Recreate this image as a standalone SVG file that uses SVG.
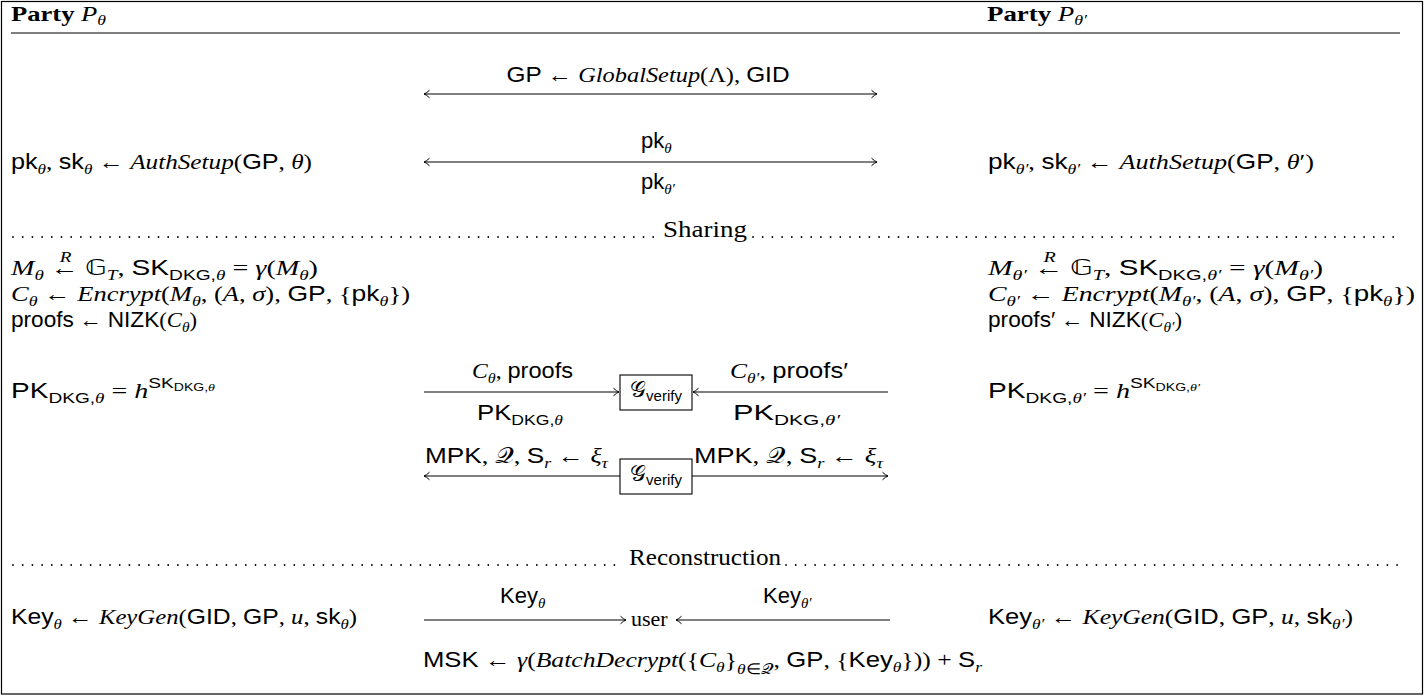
<svg xmlns="http://www.w3.org/2000/svg" width="1425" height="696" viewBox="0 0 1425 696">
<defs>
<style>
text{font-family:"Liberation Serif","Times New Roman",serif;font-size:22px;fill:#000}
.s{font-family:"Liberation Sans",Arial,sans-serif}
.i{font-style:italic}
.m{font-family:"DejaVu Sans","DejaVu Serif",sans-serif;font-style:normal}
.sb{font-size:15px}
.ss{font-size:11px}
.hd{font-size:21px}
.ph{font-size:24px}
.ln{stroke:#000;stroke-width:1.1;fill:none}
.ar{stroke:#000;stroke-width:1.1;fill:none}
.dt{stroke:#000;stroke-width:1.8;stroke-linecap:round;stroke-dasharray:0 9.7;fill:none}
.bx{fill:#fff;stroke:#000;stroke-width:1.1}
</style>
<marker id="ah" viewBox="-7 -5 8 10" refX="0" refY="0" markerWidth="8" markerHeight="10" markerUnits="userSpaceOnUse" orient="auto-start-reverse">
<path d="M-5.5,-3.8 Q-2.5,-0.8 0,0 Q-2.5,0.8 -5.5,3.8" fill="none" stroke="#000" stroke-width="1"/>
</marker>
</defs>
<rect x="1.5" y="1.5" width="1421" height="692.5" fill="#fff" stroke="#000" stroke-width="1.2"/>
<line class="ln" x1="11" y1="33" x2="1400" y2="33"/>

<g id="phases">
<line class="dt" x1="13" y1="237" x2="658" y2="237"/>
<line class="dt" x1="753" y1="237" x2="1400" y2="237"/>
<text class="ph" x="705" y="237" text-anchor="middle" textLength="84" lengthAdjust="spacingAndGlyphs">Sharing</text>
<line class="dt" x1="13" y1="565" x2="624" y2="565"/>
<line class="dt" x1="786" y1="565" x2="1400" y2="565"/>
<text class="ph" x="705" y="565" text-anchor="middle" textLength="152" lengthAdjust="spacingAndGlyphs">Reconstruction</text>
</g>

<g id="party-left">
<text class="hd" x="11" y="21" textLength="95" lengthAdjust="spacingAndGlyphs"><tspan font-weight="bold">Party</tspan> <tspan class="i">P</tspan><tspan class="i" style="font-size:14px" dy="4">θ</tspan></text>
<text x="11" y="169" textLength="301" lengthAdjust="spacingAndGlyphs"><tspan class="s">pk</tspan><tspan class="i sb" dy="5">θ</tspan><tspan dy="-5">, </tspan><tspan class="s">sk</tspan><tspan class="i sb" dy="5">θ</tspan><tspan dy="-5"> ← </tspan><tspan class="i">AuthSetup</tspan>(<tspan class="s">GP</tspan>, <tspan class="i">θ</tspan>)</text>
<text x="11" y="275" textLength="307" lengthAdjust="spacingAndGlyphs"><tspan class="i">M</tspan><tspan class="i sb" dy="5">θ</tspan><tspan dy="-5"> ←</tspan><tspan class="i sb" dx="-15" dy="-13">R</tspan><tspan dx="5" dy="13"> </tspan><tspan class="m">𝔾</tspan><tspan class="i sb" dy="5">T</tspan><tspan dy="-5">, </tspan><tspan class="s">SK</tspan><tspan class="s sb" dy="5">DKG,</tspan><tspan class="i sb">θ</tspan><tspan dy="-5"> = </tspan><tspan class="i">γ</tspan>(<tspan class="i">M</tspan><tspan class="i sb" dy="5">θ</tspan><tspan dy="-5">)</tspan></text>
<text x="11" y="301" textLength="399" lengthAdjust="spacingAndGlyphs"><tspan class="i">C</tspan><tspan class="i sb" dy="5">θ</tspan><tspan dy="-5"> ← </tspan><tspan class="i">Encrypt</tspan>(<tspan class="i">M</tspan><tspan class="i sb" dy="5">θ</tspan><tspan dy="-5">, (</tspan><tspan class="i">A</tspan>, <tspan class="i">σ</tspan>), <tspan class="s">GP</tspan>, {<tspan class="s">pk</tspan><tspan class="i sb" dy="5">θ</tspan><tspan dy="-5">})</tspan></text>
<text x="11" y="327" textLength="186" lengthAdjust="spacingAndGlyphs"><tspan class="s">proofs</tspan> ← <tspan class="s">NIZK</tspan>(<tspan class="i">C</tspan><tspan class="i sb" dy="5">θ</tspan><tspan dy="-5">)</tspan></text>
<text x="11" y="398" textLength="204" lengthAdjust="spacingAndGlyphs"><tspan class="s">PK</tspan><tspan class="s sb" dy="5">DKG,</tspan><tspan class="i sb">θ</tspan><tspan dy="-5"> = </tspan><tspan class="i">h</tspan><tspan class="s sb" dy="-10">SK</tspan><tspan class="s ss" dy="3">DKG,</tspan><tspan class="i ss">θ</tspan></text>
<text x="11" y="624" textLength="346" lengthAdjust="spacingAndGlyphs"><tspan class="s">Key</tspan><tspan class="i sb" dy="5">θ</tspan><tspan dy="-5"> ← </tspan><tspan class="i">KeyGen</tspan>(<tspan class="s">GID</tspan>, <tspan class="s">GP</tspan>, <tspan class="i">u</tspan>, <tspan class="s">sk</tspan><tspan class="i sb" dy="5">θ</tspan><tspan dy="-5">)</tspan></text>
</g>

<g id="party-right">
<text class="hd" x="987" y="21" textLength="100" lengthAdjust="spacingAndGlyphs"><tspan font-weight="bold">Party</tspan> <tspan class="i">P</tspan><tspan class="i" style="font-size:14px" dy="4">θ′</tspan></text>
<text x="988" y="169" textLength="326" lengthAdjust="spacingAndGlyphs"><tspan class="s">pk</tspan><tspan class="i sb" dy="5">θ′</tspan><tspan dy="-5">, </tspan><tspan class="s">sk</tspan><tspan class="i sb" dy="5">θ′</tspan><tspan dy="-5"> ← </tspan><tspan class="i">AuthSetup</tspan>(<tspan class="s">GP</tspan>, <tspan class="i">θ</tspan>′)</text>
<text x="988" y="275" textLength="335" lengthAdjust="spacingAndGlyphs"><tspan class="i">M</tspan><tspan class="i sb" dy="5">θ′</tspan><tspan dy="-5"> ←</tspan><tspan class="i sb" dx="-15" dy="-13">R</tspan><tspan dx="5" dy="13"> </tspan><tspan class="m">𝔾</tspan><tspan class="i sb" dy="5">T</tspan><tspan dy="-5">, </tspan><tspan class="s">SK</tspan><tspan class="s sb" dy="5">DKG,</tspan><tspan class="i sb">θ′</tspan><tspan dy="-5"> = </tspan><tspan class="i">γ</tspan>(<tspan class="i">M</tspan><tspan class="i sb" dy="5">θ′</tspan><tspan dy="-5">)</tspan></text>
<text x="988" y="301" textLength="427" lengthAdjust="spacingAndGlyphs"><tspan class="i">C</tspan><tspan class="i sb" dy="5">θ′</tspan><tspan dy="-5"> ← </tspan><tspan class="i">Encrypt</tspan>(<tspan class="i">M</tspan><tspan class="i sb" dy="5">θ′</tspan><tspan dy="-5">, (</tspan><tspan class="i">A</tspan>, <tspan class="i">σ</tspan>), <tspan class="s">GP</tspan>, {<tspan class="s">pk</tspan><tspan class="i sb" dy="5">θ</tspan><tspan dy="-5">})</tspan></text>
<text x="988" y="327" textLength="194" lengthAdjust="spacingAndGlyphs"><tspan class="s">proofs′</tspan> ← <tspan class="s">NIZK</tspan>(<tspan class="i">C</tspan><tspan class="i sb" dy="5">θ′</tspan><tspan dy="-5">)</tspan></text>
<text x="988" y="398" textLength="212" lengthAdjust="spacingAndGlyphs"><tspan class="s">PK</tspan><tspan class="s sb" dy="5">DKG,</tspan><tspan class="i sb">θ′</tspan><tspan dy="-5"> = </tspan><tspan class="i">h</tspan><tspan class="s sb" dy="-10">SK</tspan><tspan class="s ss" dy="3">DKG,</tspan><tspan class="i ss">θ′</tspan></text>
<text x="988" y="624" textLength="365" lengthAdjust="spacingAndGlyphs"><tspan class="s">Key</tspan><tspan class="i sb" dy="5">θ′</tspan><tspan dy="-5"> ← </tspan><tspan class="i">KeyGen</tspan>(<tspan class="s">GID</tspan>, <tspan class="s">GP</tspan>, <tspan class="i">u</tspan>, <tspan class="s">sk</tspan><tspan class="i sb" dy="5">θ′</tspan><tspan dy="-5">)</tspan></text>
</g>

<g id="verify-1">
<rect class="bx" x="620" y="375" width="72" height="35"/>
<text x="656" y="397" text-anchor="middle"><tspan class="m">𝒢</tspan><tspan class="s sb" dy="4">verify</tspan></text>
</g>
<g id="verify-2">
<rect class="bx" x="620" y="459" width="72" height="35"/>
<text x="656" y="481" text-anchor="middle"><tspan class="m">𝒢</tspan><tspan class="s sb" dy="4">verify</tspan></text>
</g>
<g id="user">
<text x="631" y="626">user</text>
</g>

<g id="connectors">
<line class="ar" x1="424" y1="94" x2="877" y2="94" marker-start="url(#ah)" marker-end="url(#ah)"/>
<line class="ar" x1="424" y1="162" x2="877" y2="162" marker-start="url(#ah)" marker-end="url(#ah)"/>
<line class="ar" x1="424" y1="392" x2="619" y2="392" marker-end="url(#ah)"/>
<line class="ar" x1="888" y1="392" x2="693" y2="392" marker-end="url(#ah)"/>
<line class="ar" x1="620" y1="476" x2="424" y2="476" marker-end="url(#ah)"/>
<line class="ar" x1="692" y1="476" x2="888" y2="476" marker-end="url(#ah)"/>
<line class="ar" x1="424" y1="620" x2="626" y2="620" marker-end="url(#ah)"/>
<line class="ar" x1="890" y1="620" x2="676" y2="620" marker-end="url(#ah)"/>
</g>

<g id="labels">
<text x="648" y="82" text-anchor="middle" textLength="283" lengthAdjust="spacingAndGlyphs"><tspan class="s">GP</tspan> ← <tspan class="i">GlobalSetup</tspan>(Λ), <tspan class="s">GID</tspan></text>
<text x="641" y="148"><tspan class="s">pk</tspan><tspan class="i sb" dy="5">θ</tspan></text>
<text x="641" y="189"><tspan class="s">pk</tspan><tspan class="i sb" dy="5">θ′</tspan></text>
<text x="472" y="378" textLength="101" lengthAdjust="spacingAndGlyphs"><tspan class="i">C</tspan><tspan class="i sb" dy="5">θ</tspan><tspan dy="-5">, </tspan><tspan class="s">proofs</tspan></text>
<text x="477" y="420" textLength="86" lengthAdjust="spacingAndGlyphs"><tspan class="s">PK</tspan><tspan class="s sb" dy="5">DKG,</tspan><tspan class="i sb">θ</tspan></text>
<text x="730" y="378" textLength="118" lengthAdjust="spacingAndGlyphs"><tspan class="i">C</tspan><tspan class="i sb" dy="5">θ′</tspan><tspan dy="-5">, </tspan><tspan class="s">proofs′</tspan></text>
<text x="733" y="420" textLength="107" lengthAdjust="spacingAndGlyphs"><tspan class="s">PK</tspan><tspan class="s sb" dy="5">DKG,</tspan><tspan class="i sb">θ′</tspan></text>
<text x="425" y="463" textLength="183" lengthAdjust="spacingAndGlyphs"><tspan class="s">MPK</tspan>, <tspan class="m">𝒬</tspan>, <tspan class="s">S</tspan><tspan class="i sb" dy="5">r</tspan><tspan dy="-5"> ← </tspan><tspan class="i">ξ</tspan><tspan class="i sb" dy="5">τ</tspan></text>
<text x="694" y="463" textLength="189" lengthAdjust="spacingAndGlyphs"><tspan class="s">MPK</tspan>, <tspan class="m">𝒬</tspan>, <tspan class="s">S</tspan><tspan class="i sb" dy="5">r</tspan><tspan dy="-5"> ← </tspan><tspan class="i">ξ</tspan><tspan class="i sb" dy="5">τ</tspan></text>
<text x="500" y="603"><tspan class="s">Key</tspan><tspan class="i sb" dy="5">θ</tspan></text>
<text x="763" y="603"><tspan class="s">Key</tspan><tspan class="i sb" dy="5">θ′</tspan></text>
<text x="423" y="667" textLength="559" lengthAdjust="spacingAndGlyphs"><tspan class="s">MSK</tspan> ← <tspan class="i">γ</tspan>(<tspan class="i">BatchDecrypt</tspan>({<tspan class="i">C</tspan><tspan class="i sb" dy="5">θ</tspan><tspan dy="-5">}</tspan><tspan class="i sb" dy="7">θ</tspan><tspan class="sb">∈</tspan><tspan class="m sb">𝒬</tspan><tspan dy="-7">, </tspan><tspan class="s">GP</tspan>, {<tspan class="s">Key</tspan><tspan class="i sb" dy="5">θ</tspan><tspan dy="-5">})) + </tspan><tspan class="s">S</tspan><tspan class="i sb" dy="5">r</tspan></text>
</g>
</svg>
